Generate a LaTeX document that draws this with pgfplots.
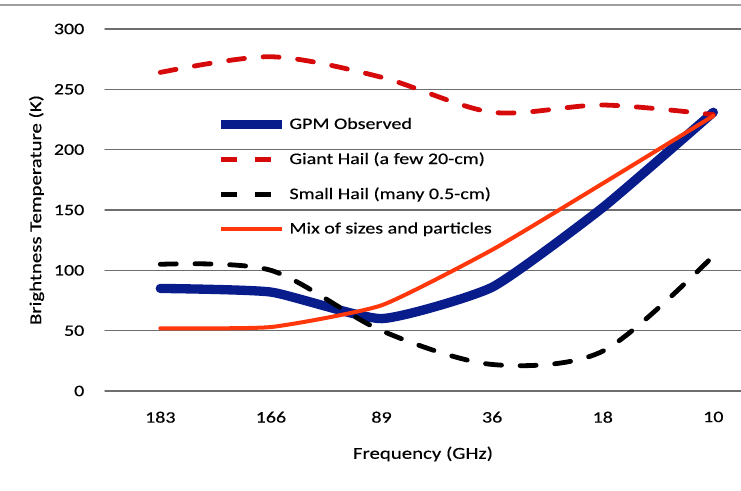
\documentclass[border=0pt]{standalone}
\usepackage{fontspec}
\setmainfont{Carlito}[FakeStretch=1.25, FakeBold=0.4]
\usepackage{pgfplots}
\pgfplotsset{compat=1.18}

\definecolor{gpmblue}{RGB}{8,28,140}
\definecolor{giantred}{RGB}{214,10,10}
\definecolor{mixred}{RGB}{255,55,10}
\definecolor{gridgray}{RGB}{110,110,110}

\begin{document}
\begin{tikzpicture}
\begin{axis}[
    scale only axis,
    clip=false,
    width=477pt, height=271.5pt,
    xmin=-0.5, xmax=5.25,
    ymin=0, ymax=300,
    xtick={0,1,2,3,4,5},
    xticklabels={183,166,89,36,18,10},
    ytick={0,50,100,150,200,250,300},
    ymajorgrids,
    grid style={gridgray, line width=1.1pt},
    axis line style={draw=none},
    tick style={draw=none},
    /pgf/number format/assume math mode=true,
    ticklabel style={font=\fontsize{12}{14}\selectfont},
    yticklabel style={xshift=-12pt},
    xticklabel style={yshift=-12pt},
    xlabel={Frequency (GHz)},
    ylabel={Brightness Temperature (K)},
    label style={font=\fontsize{12.5}{15}\selectfont},
    xlabel style={yshift=-11pt},
    ylabel style={yshift=0.5pt},
    legend style={at={(rel axis cs:0.168,0.77)}, anchor=north west, draw=none, fill=none,
        font=\fontsize{12}{14}\selectfont, row sep=12pt,
        legend cell align=left},
    legend image code/.code={\draw[#1] (0pt,0pt) -- (46pt,0pt);},
    line cap=round,
]
\addplot[gpmblue, line width=7pt, smooth, tension=0.3] coordinates {
    (0,85) (1,82) (2,60) (3,86) (4,152) (5,231)};
\addlegendentry{GPM Observed}
\addplot[giantred, line width=3.6pt, smooth, tension=0.5, dash pattern=on 12pt off 14pt] coordinates {
    (0,264) (1,277) (2,260) (3,231) (4,237) (5,229)};
\addlegendentry{Giant Hail (a few 20-cm)}
\addplot[black, line width=3.6pt, smooth, tension=0.5, dash pattern=on 12pt off 14pt] coordinates {
    (0,105) (1,100) (2,50) (3,22) (4,33) (5,112)};
\addlegendentry{Small Hail (many 0.5-cm)}
\addplot[mixred, line width=3pt, smooth, tension=0.3] coordinates {
    (0,52) (1,53) (2,71) (3,117) (4,172) (5,228)};
\addlegendentry{Mix of sizes and particles}
\draw[gray!75, line width=1.6pt] (rel axis cs:-0.1651,1.0663) -- (rel axis cs:1,1.0663);
\coordinate (bbsw) at (rel axis cs:-0.1651,-0.2735);
\coordinate (bbne) at (rel axis cs:1,1.0801);
\end{axis}
\pgfresetboundingbox
\path[use as bounding box] (bbsw) rectangle (bbne);
\end{tikzpicture}
\end{document}
